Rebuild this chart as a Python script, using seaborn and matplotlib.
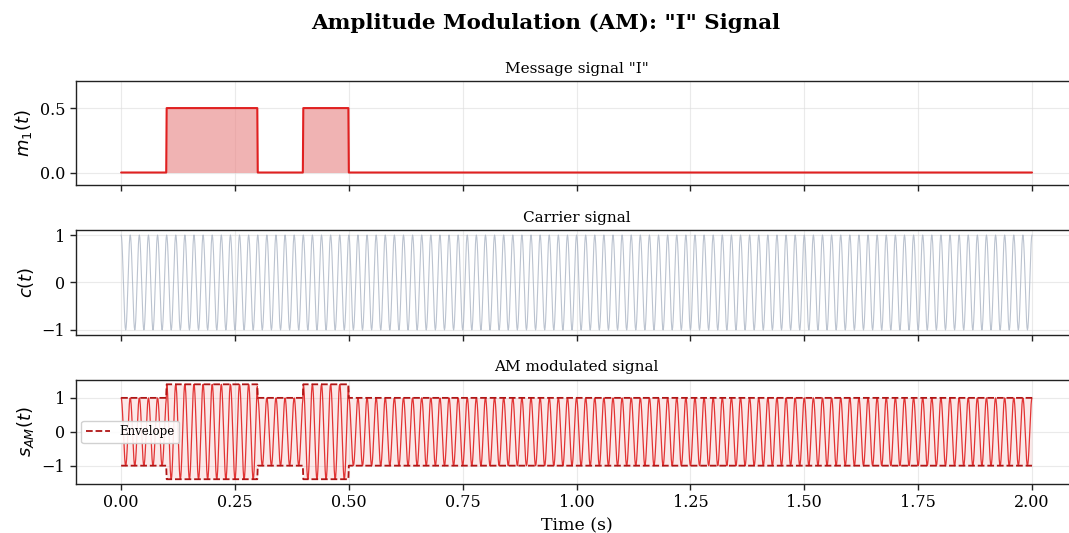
import numpy as np
import pandas as pd
import matplotlib
matplotlib.use("Agg")
import matplotlib.pyplot as plt
import seaborn as sns

# Message "I": pulse edges (s) and level
pulse_starts = [0.1, 0.4]
pulse_ends = [0.3, 0.5]
pulse_level = 0.5

# Signal parameters
duration = 2.0
fs = 1000            # samples per second
carrier_freq = 50    # Hz
mod_index = 0.8

t = np.linspace(0, duration, int(duration * fs) + 1)
m = np.zeros_like(t)
for a, b in zip(pulse_starts, pulse_ends):
    m[(t >= a) & (t < b)] = pulse_level
c = np.cos(2 * np.pi * carrier_freq * t)
env = 1 + mod_index * m
s = env * c

df = pd.DataFrame({"t": t, "m": m, "c": c, "s": s, "env": env, "nenv": -env})

sns.set_theme(style="ticks")
plt.rcParams.update({
    "font.family": ["DejaVu Serif"],
    "mathtext.fontset": "dejavusans",
    "text.color": "black",
    "axes.labelcolor": "black",
    "axes.edgecolor": "#222222",
    "axes.linewidth": 1.0,
    "xtick.color": "#222222",
    "ytick.color": "#222222",
    "xtick.labelcolor": "black",
    "ytick.labelcolor": "black",
})

fig, axes = plt.subplots(3, 1, figsize=(10.69, 5.33), dpi=100, sharex=True)
fig.subplots_adjust(left=0.0707, right=1.008, top=0.848, bottom=0.092, hspace=0.43)

red = "#e02020"
dark_red = "#b01515"

ax = axes[0]
ax.fill_between(t, 0, m, color="#e98a8a", alpha=0.65, linewidth=0)
sns.lineplot(data=df, x="t", y="m", ax=ax, color=red, linewidth=1.5, estimator=None)
ax.set_ylim(-0.1, 0.71)
ax.set_yticks([0.0, 0.5])
ax.set_ylabel(r"$m_1(t)$", fontsize=13)
ax.set_title('Message signal "I"', fontsize=11)

ax = axes[1]
sns.lineplot(data=df, x="t", y="c", ax=ax, color="#aab4c4", linewidth=0.8,
             alpha=0.8, estimator=None)
ax.set_yticks([-1, 0, 1])
ax.set_ylabel(r"$c(t)$", fontsize=13)
ax.set_title("Carrier signal", fontsize=11)

ax = axes[2]
ax.fill_between(t, -env, env, color="#f3b8b8", alpha=0.3, linewidth=0)
sns.lineplot(data=df, x="t", y="s", ax=ax, color=red, linewidth=0.9,
             alpha=0.9, estimator=None)
sns.lineplot(data=df, x="t", y="env", ax=ax, color=dark_red, linewidth=1.3,
             linestyle="--", estimator=None, label="Envelope")
sns.lineplot(data=df, x="t", y="nenv", ax=ax, color=dark_red, linewidth=1.3,
             linestyle="--", estimator=None)
ax.set_yticks([-1, 0, 1])
ax.set_ylabel(r"$s_{AM}(t)$", fontsize=13)
ax.set_title("AM modulated signal", fontsize=11)
ax.legend(loc="center left", fontsize=8.5, frameon=True, framealpha=0.9)
ax.set_xlabel("Time (s)", fontsize=12.5)

for ax in axes:
    ax.grid(True, color="#dddddd", linewidth=0.8, alpha=0.6)
    ax.tick_params(labelsize=11.5, length=4, width=1)
    ax.set_xlim(-0.1, 2.1)
    for sp in ax.spines.values():
        sp.set_visible(True)
axes[0].set_xlabel("")
axes[1].set_xlabel("")
axes[2].set_xticks(np.arange(0, 2.01, 0.25))
axes[2].set_xticklabels([f"{v:.2f}" for v in np.arange(0, 2.01, 0.25)])

fig.suptitle('Amplitude Modulation (AM): "I" Signal', fontsize=15.4,
             fontweight="bold", x=0.5105, y=0.975)

fig.savefig("out.png", dpi=100)
